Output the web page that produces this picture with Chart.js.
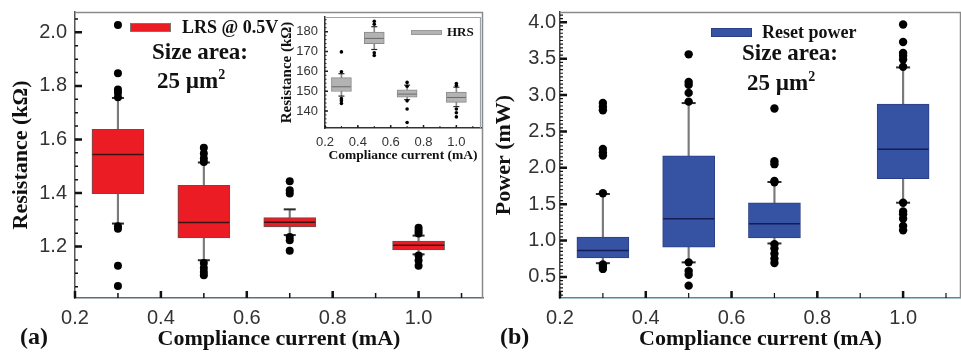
<!DOCTYPE html>
<html lang="en">
<head>
<meta charset="UTF-8">
<title>LRS resistance and reset power vs compliance current</title>
<style>
  body { margin: 0; background: #fff; }
  #wrap { position: relative; width: 961px; height: 353px; overflow: hidden; }
  canvas { position: absolute; top: 0; }
  #chartA { left: 0; }
  #chartB { left: 480px; }
  #inset { left: 276px; }
  .note {
    position: absolute;
    font-family: "Liberation Serif", "Times New Roman", serif;
    font-weight: bold;
    color: #111;
    line-height: 1;
    white-space: nowrap;
  }
  .swatch { position: absolute; box-sizing: border-box; }
</style>
<script src="https://cdn.jsdelivr.net/npm/chart.js"></script>
</head>
<body>
<div id="wrap">
  <canvas id="chartA" width="486" height="353"></canvas>
  <canvas id="chartB" width="481" height="353"></canvas>
  <canvas id="inset" width="209" height="170"></canvas>

  <!-- panel (a) annotations -->
  <div class="swatch" style="left:130px;top:23px;width:41px;height:9px;background:#ec1c24;border:1px solid #777;"></div>
  <div class="note" style="left:182px;top:18px;font-size:18px;">LRS @ 0.5V</div>
  <div class="note" style="left:152px;top:40px;font-size:23px;">Size area:</div>
  <div class="note" style="left:157px;top:68px;font-size:23px;">25 µm<sup style="font-size:14px;vertical-align:9px;">2</sup></div>
  <div class="swatch" style="left:411px;top:30px;width:31px;height:5px;background:#b3b3b3;border:1px solid #999;"></div>
  <div class="note" style="left:447px;top:25px;font-size:13px;">HRS</div>
  <div class="note" style="left:20px;top:324px;font-size:24px;">(a)</div>

  <!-- panel (b) annotations -->
  <div class="swatch" style="left:711px;top:28px;width:41px;height:9px;background:#3652a3;border:1px solid #2b3f86;"></div>
  <div class="note" style="left:762px;top:23px;font-size:18px;">Reset power</div>
  <div class="note" style="left:742px;top:41px;font-size:23px;">Size area:</div>
  <div class="note" style="left:747px;top:70px;font-size:23px;">25 µm<sup style="font-size:14px;vertical-align:9px;">2</sup></div>
  <div class="note" style="left:500px;top:324px;font-size:24px;">(b)</div>
</div>

<script>
// compliance currents (mA)
const currents = [0.3, 0.5, 0.7, 1.0];

// (a) LRS resistance @ 0.5 V (kΩ)
const lrsQ1 = [1.398, 1.232, 1.273, 1.188];
const lrsMedian = [1.544, 1.290, 1.291, 1.205];
const lrsQ3 = [1.638, 1.429, 1.308, 1.221];
const lrsWhiskerLow = [1.286, 1.149, 1.243, 1.171];
const lrsWhiskerHigh = [1.755, 1.514, 1.339, 1.241];
const lrsOutliers = [
  [2.027, 1.847, 1.787, 1.774, 1.758, 1.276, 1.267, 1.128, 1.053],
  [1.569, 1.548, 1.529, 1.516, 1.139, 1.120, 1.105, 1.093],
  [1.444, 1.410, 1.398, 1.236, 1.224, 1.184],
  [1.270, 1.259, 1.249, 1.167, 1.148, 1.128]
];

// inset: HRS resistance (kΩ)
const hrsQ1 = [149.8, 173.9, 147.0, 144.3];
const hrsMedian = [152.2, 176.6, 148.5, 146.8];
const hrsQ3 = [156.8, 179.8, 150.7, 149.5];
const hrsWhiskerLow = [147.5, 171.0, 145.7, 142.2];
const hrsWhiskerHigh = [158.8, 182.5, 153.0, 152.0];
const hrsOutliers = [
  [169.8, 159.8, 146.2, 145.2, 143.8],
  [185.2, 183.8, 169.4, 168.0],
  [154.4, 152.5, 145.1, 141.0, 134.2],
  [153.8, 152.8, 141.0, 139.1, 137.0]
];

// (b) reset power (mW)
const powQ1 = [0.762, 0.910, 1.035, 1.851];
const powMedian = [0.862, 1.300, 1.230, 2.255];
const powQ3 = [1.046, 2.165, 1.517, 2.875];
const powWhiskerLow = [0.689, 0.700, 0.960, 1.520];
const powWhiskerHigh = [1.640, 2.890, 1.805, 3.380];
const powOutliers = [
  [2.89, 2.84, 2.79, 2.26, 2.21, 2.17, 1.65, 0.67, 0.64, 0.61],
  [3.56, 3.18, 3.14, 3.03, 2.91, 0.70, 0.58, 0.53, 0.38],
  [2.815, 2.09, 2.05, 1.82, 1.80, 0.95, 0.89, 0.82, 0.75, 0.69],
  [3.97, 3.73, 3.58, 3.54, 3.49, 3.39, 1.52, 1.40, 1.36, 1.30, 1.20, 1.14]
];

// tick labels
const xTicks = [0.2, 0.4, 0.6, 0.8, 1.0];
const lrsTicks = [1.2, 1.4, 1.6, 1.8, 2.0];
const hrsTicks = [140, 150, 160, 170, 180];
const powTicks = [0.5, 1.0, 1.5, 2.0, 2.5, 3.0, 3.5, 4.0];

const serif = '"Liberation Serif", "Times New Roman", serif';
const sans = '"Liberation Sans", Arial, sans-serif';

// top/right frame plus inward major & minor ticks
const frameTicks = {
  id: 'frameTicks',
  afterDatasetsDraw(chart, args, o) {
    const { ctx, chartArea: a, scales } = chart;
    ctx.save();
    ctx.strokeStyle = o.frameColor;
    ctx.lineWidth = o.frameWidth;
    ctx.beginPath();
    ctx.moveTo(a.left, a.top + 0.5);
    ctx.lineTo(a.right - 0.5, a.top + 0.5);
    ctx.lineTo(a.right - 0.5, a.bottom);
    ctx.stroke();

    ctx.strokeStyle = o.tickColor;
    const draw = (scale, values, len, width) => {
      ctx.lineWidth = width;
      ctx.beginPath();
      values.forEach(v => {
        const p = scale.getPixelForValue(v);
        if (scale.isHorizontal()) { ctx.moveTo(p, a.bottom); ctx.lineTo(p, a.bottom - len); }
        else { ctx.moveTo(a.left, p); ctx.lineTo(a.left + len, p); }
      });
      ctx.stroke();
    };
    const steps = (scale, step) => {
      const out = [];
      for (let k = Math.ceil(scale.min / step - 1e-6); k * step <= scale.max + 1e-9; k++) out.push(k * step);
      return out;
    };
    draw(scales.x, steps(scales.x, o.xMinorStep), o.xMinorLen, o.minorWidth);
    draw(scales.y, steps(scales.y, o.yMinorStep), o.yMinorLen, o.minorWidth);
    draw(scales.x, scales.x.ticks.map(t => t.value), o.majorLen, o.majorWidth);
    draw(scales.y, scales.y.ticks.map(t => t.value), o.majorLen, o.majorWidth);
    ctx.restore();
  }
};

function boxDatasets(q1, med, q3, lo, hi, outliers, st) {
  const pts = vals => currents.map((c, i) => ({ x: c, y: vals[i] }));
  const dots = [];
  outliers.forEach((list, i) => list.forEach(v => dots.push({ x: currents[i], y: v })));
  return [
    { type: 'scatter', data: dots, pointStyle: 'circle', pointRadius: st.dot,
      backgroundColor: '#000', borderColor: '#000', borderWidth: 0 },
    { type: 'scatter', data: pts(med), pointStyle: 'line', pointRadius: st.box / 2 - 0.5,
      borderColor: st.median, borderWidth: st.medianWidth },
    { type: 'scatter', data: pts(lo).concat(pts(hi)), pointStyle: 'line', pointRadius: st.cap,
      borderColor: '#2a2a2a', borderWidth: st.capWidth },
    { type: 'bar', data: currents.map((c, i) => ({ x: c, y: [q1[i], q3[i]] })),
      backgroundColor: st.fill, borderColor: st.edge, borderWidth: 1,
      barThickness: st.box, grouped: false, borderSkipped: false },
    { type: 'bar', data: currents.map((c, i) => ({ x: c, y: [lo[i], hi[i]] })),
      backgroundColor: st.whisker, borderWidth: 0, barThickness: st.whiskerWidth, grouped: false }
  ];
}

function makeChart(id, datasets, cfg) {
  return new Chart(document.getElementById(id), {
    type: 'bar',
    data: { datasets },
    plugins: [frameTicks],
    options: {
      responsive: false,
      animation: false,
      events: [],
      layout: { padding: cfg.padding, autoPadding: false },
      plugins: {
        legend: { display: false },
        tooltip: { enabled: false },
        frameTicks: cfg.frame
      },
      scales: {
        x: {
          type: 'linear', min: cfg.xMin, max: cfg.xMax, offset: false,
          afterBuildTicks: s => { s.ticks = xTicks.map(v => ({ value: v })); },
          afterFit: s => { s.height = cfg.xHeight; s.paddingLeft = 0; s.paddingRight = 0; },
          ticks: { font: { family: sans, size: cfg.tickSize }, color: '#333', padding: cfg.xPad,
                   maxRotation: 0, autoSkip: false, callback: v => v.toFixed(1) },
          grid: { display: true, drawOnChartArea: false, drawTicks: false },
          border: { color: cfg.xAxisColor, width: 1.5, dash: cfg.axisDash || [] },
          title: { display: true, text: 'Compliance current (mA)', color: '#111',
                   font: { family: serif, size: cfg.xTitleSize, weight: 'bold' },
                   padding: { top: 0, bottom: cfg.xTitlePad } }
        },
        y: {
          type: 'linear', min: cfg.yMin, max: cfg.yMax, beginAtZero: false,
          afterBuildTicks: s => { s.ticks = cfg.yTicks.map(v => ({ value: v })); },
          afterFit: s => { s.width = cfg.yWidth; s.paddingTop = 0; s.paddingBottom = 0; },
          ticks: { font: { family: sans, size: cfg.tickSize }, color: '#333', padding: cfg.yPad,
                   autoSkip: false, callback: cfg.yFormat },
          grid: { display: true, drawOnChartArea: false, drawTicks: false },
          border: { color: cfg.yAxisColor, width: 1.5, dash: cfg.axisDash || [] },
          title: { display: true, text: cfg.yTitle, color: '#111',
                   font: { family: serif, size: cfg.yTitleSize, weight: 'bold' },
                   padding: { top: cfg.yTitlePad, bottom: 0 } }
        }
      }
    }
  });
}

makeChart('chartA',
  boxDatasets(lrsQ1, lrsMedian, lrsQ3, lrsWhiskerLow, lrsWhiskerHigh, lrsOutliers,
    { fill: '#ec1c24', edge: '#555', median: '#3b1515', medianWidth: 1.5, whisker: '#7a7a7a',
      whiskerWidth: 1.5, box: 52, cap: 6, capWidth: 2, dot: 4 }),
  { padding: { left: 0, top: 12, right: 3, bottom: 0 },
    xMin: 0.2, xMax: 1.15, yMin: 1.008, yMax: 2.076, yTicks: lrsTicks,
    yFormat: v => v.toFixed(1), yTitle: 'Resistance (kΩ)',
    xHeight: 55, yWidth: 75, tickSize: 20, xPad: 8, yPad: 8,
    xTitleSize: 22, xTitlePad: 0, yTitleSize: 22, yTitlePad: 8,
    xAxisColor: '#5d6d7a', yAxisColor: '#555',
    frame: { frameColor: '#8a8a8a', frameWidth: 1.5, tickColor: '#111',
             xMinorStep: 0.1, yMinorStep: 0.05, majorLen: 7, xMinorLen: 5, yMinorLen: 3,
             majorWidth: 2.5, minorWidth: 1.5 } });

makeChart('chartB',
  boxDatasets(powQ1, powMedian, powQ3, powWhiskerLow, powWhiskerHigh, powOutliers,
    { fill: '#3652a3', edge: '#2b3f86', median: '#141d55', medianWidth: 1.5, whisker: '#7a7a7a',
      whiskerWidth: 1.5, box: 52, cap: 7, capWidth: 2, dot: 4.2 }),
  { padding: { left: 0, top: 12, right: 0, bottom: 0 },
    xMin: 0.2, xMax: 1.135, yMin: 0.21, yMax: 4.142, yTicks: powTicks,
    yFormat: v => v.toFixed(1), yTitle: 'Power (mW)',
    xHeight: 55, yWidth: 80, tickSize: 20, xPad: 8, yPad: 4,
    xTitleSize: 22, xTitlePad: 0, yTitleSize: 22, yTitlePad: 11,
    xAxisColor: '#4f8c96', yAxisColor: '#444',
    frame: { frameColor: '#8a8a8a', frameWidth: 1.5, tickColor: '#111',
             xMinorStep: 0.1, yMinorStep: 0.05, majorLen: 7, xMinorLen: 5, yMinorLen: 3,
             majorWidth: 2.5, minorWidth: 1.2 } });

makeChart('inset',
  boxDatasets(hrsQ1, hrsMedian, hrsQ3, hrsWhiskerLow, hrsWhiskerHigh, hrsOutliers,
    { fill: '#b3b3b3', edge: '#8a8a8a', median: '#6a6a6a', medianWidth: 1, whisker: '#888',
      whiskerWidth: 1, box: 20, cap: 3, capWidth: 1.2, dot: 1.8 }),
  { padding: { left: 0, top: 17, right: 4, bottom: 0 },
    xMin: 0.2, xMax: 1.15, yMin: 131.4, yMax: 187.4, yTicks: hrsTicks,
    yFormat: v => String(v), yTitle: 'Resistance (kΩ)',
    xHeight: 42, yWidth: 49, tickSize: 13, xPad: 7, yPad: 7,
    xTitleSize: 13.5, xTitlePad: 6, yTitleSize: 15, yTitlePad: 2,
    xAxisColor: '#333', yAxisColor: '#333', axisDash: [1.5, 2],
    frame: { frameColor: '#9aa4aa', frameWidth: 1.2, tickColor: '#222',
             xMinorStep: 0.1, yMinorStep: 2, majorLen: 3, xMinorLen: 2, yMinorLen: 1.5,
             majorWidth: 1.5, minorWidth: 1 } });
</script>
</body>
</html>
